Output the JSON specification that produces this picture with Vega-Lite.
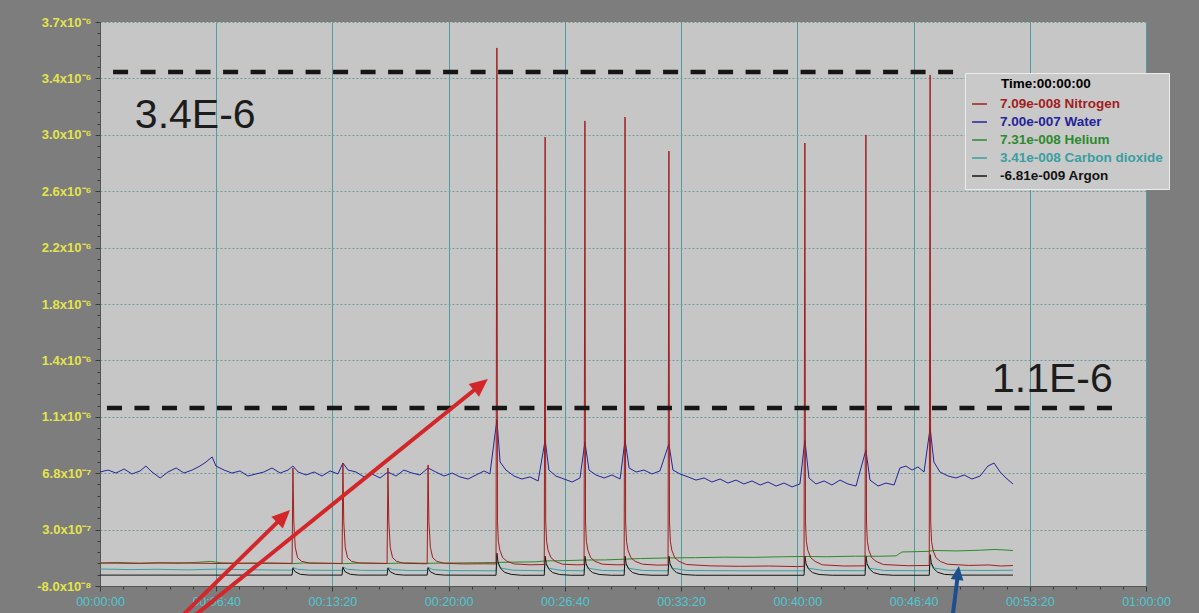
{
"$schema": "https://vega.github.io/schema/vega-lite/v6.json",
"width": 1046, "height": 564,
"autosize": {"type": "none"},
"padding": {"left": 100, "top": 22, "right": 53, "bottom": 27},
"background": "#7d7d7d",
"config": {"view": {"fill": "#c6c6c6", "stroke": null}, "font": "Liberation Sans"},
"datasets": {
"series": [
{"series":"Water","t":0,"v":0.684},{"series":"Water","t":28,"v":0.697},{"series":"Water","t":55,"v":0.677},{"series":"Water","t":83,"v":0.704},{"series":"Water","t":110,"v":0.671},{"series":"Water","t":138,"v":0.691},{"series":"Water","t":158,"v":0.724},{"series":"Water","t":179,"v":0.684},{"series":"Water","t":207,"v":0.644},{"series":"Water","t":234,"v":0.684},{"series":"Water","t":262,"v":0.711},{"series":"Water","t":289,"v":0.677},{"series":"Water","t":317,"v":0.697},{"series":"Water","t":344,"v":0.724},{"series":"Water","t":365,"v":0.751},{"series":"Water","t":386,"v":0.785},{"series":"Water","t":399,"v":0.724},{"series":"Water","t":427,"v":0.697},{"series":"Water","t":454,"v":0.677},{"series":"Water","t":482,"v":0.691},{"series":"Water","t":509,"v":0.657},{"series":"Water","t":537,"v":0.671},{"series":"Water","t":564,"v":0.684},{"series":"Water","t":592,"v":0.711},{"series":"Water","t":620,"v":0.677},{"series":"Water","t":647,"v":0.697},{"series":"Water","t":664,"v":0.724},{"series":"Water","t":682,"v":0.684},{"series":"Water","t":709,"v":0.664},{"series":"Water","t":737,"v":0.684},{"series":"Water","t":764,"v":0.657},{"series":"Water","t":792,"v":0.691},{"series":"Water","t":819,"v":0.671},{"series":"Water","t":836,"v":0.744},{"series":"Water","t":854,"v":0.697},{"series":"Water","t":881,"v":0.684},{"series":"Water","t":909,"v":0.651},{"series":"Water","t":936,"v":0.671},{"series":"Water","t":964,"v":0.644},{"series":"Water","t":991,"v":0.684},{"series":"Water","t":1019,"v":0.657},{"series":"Water","t":1046,"v":0.697},{"series":"Water","t":1074,"v":0.677},{"series":"Water","t":1101,"v":0.664},{"series":"Water","t":1129,"v":0.711},{"series":"Water","t":1156,"v":0.684},{"series":"Water","t":1184,"v":0.657},{"series":"Water","t":1212,"v":0.677},{"series":"Water","t":1239,"v":0.651},{"series":"Water","t":1267,"v":0.637},{"series":"Water","t":1294,"v":0.664},{"series":"Water","t":1322,"v":0.691},{"series":"Water","t":1342,"v":0.671},{"series":"Water","t":1366,"v":1.033},{"series":"Water","t":1377,"v":0.751},{"series":"Water","t":1397,"v":0.697},{"series":"Water","t":1425,"v":0.657},{"series":"Water","t":1452,"v":0.637},{"series":"Water","t":1480,"v":0.651},{"series":"Water","t":1508,"v":0.624},{"series":"Water","t":1532,"v":0.899},{"series":"Water","t":1545,"v":0.697},{"series":"Water","t":1569,"v":0.657},{"series":"Water","t":1597,"v":0.637},{"series":"Water","t":1625,"v":0.617},{"series":"Water","t":1652,"v":0.644},{"series":"Water","t":1669,"v":0.885},{"series":"Water","t":1683,"v":0.697},{"series":"Water","t":1707,"v":0.664},{"series":"Water","t":1735,"v":0.644},{"series":"Water","t":1762,"v":0.664},{"series":"Water","t":1790,"v":0.637},{"series":"Water","t":1807,"v":0.899},{"series":"Water","t":1821,"v":0.711},{"series":"Water","t":1845,"v":0.684},{"series":"Water","t":1872,"v":0.697},{"series":"Water","t":1900,"v":0.671},{"series":"Water","t":1927,"v":0.691},{"series":"Water","t":1958,"v":0.872},{"series":"Water","t":1972,"v":0.697},{"series":"Water","t":1996,"v":0.671},{"series":"Water","t":2024,"v":0.651},{"series":"Water","t":2051,"v":0.630},{"series":"Water","t":2079,"v":0.644},{"series":"Water","t":2106,"v":0.617},{"series":"Water","t":2134,"v":0.637},{"series":"Water","t":2161,"v":0.610},{"series":"Water","t":2189,"v":0.630},{"series":"Water","t":2216,"v":0.604},{"series":"Water","t":2244,"v":0.624},{"series":"Water","t":2272,"v":0.597},{"series":"Water","t":2299,"v":0.617},{"series":"Water","t":2327,"v":0.590},{"series":"Water","t":2354,"v":0.610},{"series":"Water","t":2382,"v":0.584},{"series":"Water","t":2409,"v":0.604},{"series":"Water","t":2426,"v":0.899},{"series":"Water","t":2440,"v":0.644},{"series":"Water","t":2464,"v":0.604},{"series":"Water","t":2492,"v":0.624},{"series":"Water","t":2519,"v":0.597},{"series":"Water","t":2547,"v":0.630},{"series":"Water","t":2574,"v":0.604},{"series":"Water","t":2602,"v":0.590},{"series":"Water","t":2636,"v":0.831},{"series":"Water","t":2650,"v":0.630},{"series":"Water","t":2678,"v":0.590},{"series":"Water","t":2705,"v":0.610},{"series":"Water","t":2733,"v":0.597},{"series":"Water","t":2753,"v":0.711},{"series":"Water","t":2774,"v":0.724},{"series":"Water","t":2795,"v":0.697},{"series":"Water","t":2815,"v":0.718},{"series":"Water","t":2836,"v":0.684},{"series":"Water","t":2857,"v":0.979},{"series":"Water","t":2870,"v":0.751},{"series":"Water","t":2891,"v":0.684},{"series":"Water","t":2919,"v":0.657},{"series":"Water","t":2946,"v":0.644},{"series":"Water","t":2974,"v":0.664},{"series":"Water","t":3001,"v":0.637},{"series":"Water","t":3029,"v":0.657},{"series":"Water","t":3056,"v":0.724},{"series":"Water","t":3077,"v":0.744},{"series":"Water","t":3098,"v":0.684},{"series":"Water","t":3118,"v":0.644},{"series":"Water","t":3142,"v":0.604},
{"series":"Helium","t":0,"v":0.074},{"series":"Helium","t":60,"v":0.078},{"series":"Helium","t":140,"v":0.072},{"series":"Helium","t":200,"v":0.076},{"series":"Helium","t":260,"v":0.072},{"series":"Helium","t":330,"v":0.078},{"series":"Helium","t":380,"v":0.085},{"series":"Helium","t":420,"v":0.075},{"series":"Helium","t":500,"v":0.072},{"series":"Helium","t":580,"v":0.074},{"series":"Helium","t":664,"v":0.070},{"series":"Helium","t":700,"v":0.074},{"series":"Helium","t":760,"v":0.072},{"series":"Helium","t":840,"v":0.070},{"series":"Helium","t":900,"v":0.074},{"series":"Helium","t":991,"v":0.071},{"series":"Helium","t":1060,"v":0.075},{"series":"Helium","t":1129,"v":0.072},{"series":"Helium","t":1200,"v":0.074},{"series":"Helium","t":1300,"v":0.076},{"series":"Helium","t":1366,"v":0.078},{"series":"Helium","t":1420,"v":0.080},{"series":"Helium","t":1500,"v":0.082},{"series":"Helium","t":1532,"v":0.088},{"series":"Helium","t":1600,"v":0.090},{"series":"Helium","t":1669,"v":0.094},{"series":"Helium","t":1740,"v":0.095},{"series":"Helium","t":1807,"v":0.100},{"series":"Helium","t":1860,"v":0.104},{"series":"Helium","t":1958,"v":0.108},{"series":"Helium","t":2050,"v":0.110},{"series":"Helium","t":2150,"v":0.113},{"series":"Helium","t":2250,"v":0.112},{"series":"Helium","t":2350,"v":0.116},{"series":"Helium","t":2426,"v":0.118},{"series":"Helium","t":2500,"v":0.116},{"series":"Helium","t":2600,"v":0.120},{"series":"Helium","t":2680,"v":0.119},{"series":"Helium","t":2740,"v":0.122},{"series":"Helium","t":2760,"v":0.148},{"series":"Helium","t":2850,"v":0.152},{"series":"Helium","t":2870,"v":0.158},{"series":"Helium","t":2950,"v":0.155},{"series":"Helium","t":3030,"v":0.160},{"series":"Helium","t":3080,"v":0.165},{"series":"Helium","t":3142,"v":0.158},
{"series":"Carbon dioxide","t":0,"v":0.034},{"series":"Carbon dioxide","t":100,"v":0.030},{"series":"Carbon dioxide","t":200,"v":0.032},{"series":"Carbon dioxide","t":300,"v":0.028},{"series":"Carbon dioxide","t":400,"v":0.033},{"series":"Carbon dioxide","t":500,"v":0.030},{"series":"Carbon dioxide","t":600,"v":0.027},{"series":"Carbon dioxide","t":661,"v":0.026},{"series":"Carbon dioxide","t":664,"v":0.045},{"series":"Carbon dioxide","t":680,"v":0.032},{"series":"Carbon dioxide","t":720,"v":0.026},{"series":"Carbon dioxide","t":833,"v":0.025},{"series":"Carbon dioxide","t":836,"v":0.048},{"series":"Carbon dioxide","t":852,"v":0.032},{"series":"Carbon dioxide","t":900,"v":0.025},{"series":"Carbon dioxide","t":988,"v":0.024},{"series":"Carbon dioxide","t":991,"v":0.044},{"series":"Carbon dioxide","t":1007,"v":0.030},{"series":"Carbon dioxide","t":1060,"v":0.024},{"series":"Carbon dioxide","t":1126,"v":0.024},{"series":"Carbon dioxide","t":1129,"v":0.046},{"series":"Carbon dioxide","t":1145,"v":0.030},{"series":"Carbon dioxide","t":1200,"v":0.023},{"series":"Carbon dioxide","t":1363,"v":0.022},{"series":"Carbon dioxide","t":1366,"v":0.075},{"series":"Carbon dioxide","t":1380,"v":0.040},{"series":"Carbon dioxide","t":1420,"v":0.026},{"series":"Carbon dioxide","t":1529,"v":0.022},{"series":"Carbon dioxide","t":1532,"v":0.070},{"series":"Carbon dioxide","t":1546,"v":0.038},{"series":"Carbon dioxide","t":1590,"v":0.024},{"series":"Carbon dioxide","t":1666,"v":0.022},{"series":"Carbon dioxide","t":1669,"v":0.070},{"series":"Carbon dioxide","t":1683,"v":0.038},{"series":"Carbon dioxide","t":1730,"v":0.024},{"series":"Carbon dioxide","t":1804,"v":0.022},{"series":"Carbon dioxide","t":1807,"v":0.070},{"series":"Carbon dioxide","t":1821,"v":0.038},{"series":"Carbon dioxide","t":1870,"v":0.024},{"series":"Carbon dioxide","t":1955,"v":0.022},{"series":"Carbon dioxide","t":1958,"v":0.070},{"series":"Carbon dioxide","t":1972,"v":0.038},{"series":"Carbon dioxide","t":2020,"v":0.024},{"series":"Carbon dioxide","t":2200,"v":0.022},{"series":"Carbon dioxide","t":2423,"v":0.022},{"series":"Carbon dioxide","t":2426,"v":0.070},{"series":"Carbon dioxide","t":2440,"v":0.038},{"series":"Carbon dioxide","t":2490,"v":0.024},{"series":"Carbon dioxide","t":2633,"v":0.022},{"series":"Carbon dioxide","t":2636,"v":0.070},{"series":"Carbon dioxide","t":2650,"v":0.038},{"series":"Carbon dioxide","t":2700,"v":0.024},{"series":"Carbon dioxide","t":2854,"v":0.022},{"series":"Carbon dioxide","t":2857,"v":0.075},{"series":"Carbon dioxide","t":2871,"v":0.040},{"series":"Carbon dioxide","t":2920,"v":0.026},{"series":"Carbon dioxide","t":3050,"v":0.024},{"series":"Carbon dioxide","t":3142,"v":0.026},
{"series":"Argon","t":0,"v":-0.007},{"series":"Argon","t":661,"v":-0.007},{"series":"Argon","t":664,"v":0.040},{"series":"Argon","t":672,"v":0.015},{"series":"Argon","t":690,"v":-0.002},{"series":"Argon","t":720,"v":-0.007},{"series":"Argon","t":833,"v":-0.007},{"series":"Argon","t":836,"v":0.045},{"series":"Argon","t":844,"v":0.015},{"series":"Argon","t":862,"v":-0.002},{"series":"Argon","t":890,"v":-0.007},{"series":"Argon","t":988,"v":-0.007},{"series":"Argon","t":991,"v":0.040},{"series":"Argon","t":999,"v":0.015},{"series":"Argon","t":1017,"v":-0.002},{"series":"Argon","t":1045,"v":-0.007},{"series":"Argon","t":1126,"v":-0.007},{"series":"Argon","t":1129,"v":0.042},{"series":"Argon","t":1137,"v":0.015},{"series":"Argon","t":1155,"v":-0.002},{"series":"Argon","t":1185,"v":-0.007},{"series":"Argon","t":1363,"v":-0.008},{"series":"Argon","t":1366,"v":0.140},{"series":"Argon","t":1370,"v":0.080},{"series":"Argon","t":1378,"v":0.040},{"series":"Argon","t":1392,"v":0.012},{"series":"Argon","t":1415,"v":-0.002},{"series":"Argon","t":1450,"v":-0.008},{"series":"Argon","t":1529,"v":-0.008},{"series":"Argon","t":1532,"v":0.120},{"series":"Argon","t":1536,"v":0.070},{"series":"Argon","t":1544,"v":0.035},{"series":"Argon","t":1558,"v":0.010},{"series":"Argon","t":1581,"v":-0.003},{"series":"Argon","t":1620,"v":-0.008},{"series":"Argon","t":1666,"v":-0.008},{"series":"Argon","t":1669,"v":0.120},{"series":"Argon","t":1673,"v":0.070},{"series":"Argon","t":1681,"v":0.035},{"series":"Argon","t":1695,"v":0.010},{"series":"Argon","t":1718,"v":-0.003},{"series":"Argon","t":1760,"v":-0.008},{"series":"Argon","t":1804,"v":-0.008},{"series":"Argon","t":1807,"v":0.120},{"series":"Argon","t":1811,"v":0.070},{"series":"Argon","t":1819,"v":0.035},{"series":"Argon","t":1833,"v":0.010},{"series":"Argon","t":1856,"v":-0.003},{"series":"Argon","t":1900,"v":-0.008},{"series":"Argon","t":1955,"v":-0.008},{"series":"Argon","t":1958,"v":0.120},{"series":"Argon","t":1962,"v":0.070},{"series":"Argon","t":1970,"v":0.035},{"series":"Argon","t":1984,"v":0.010},{"series":"Argon","t":2007,"v":-0.003},{"series":"Argon","t":2050,"v":-0.008},{"series":"Argon","t":2423,"v":-0.008},{"series":"Argon","t":2426,"v":0.120},{"series":"Argon","t":2430,"v":0.070},{"series":"Argon","t":2438,"v":0.035},{"series":"Argon","t":2452,"v":0.010},{"series":"Argon","t":2475,"v":-0.003},{"series":"Argon","t":2520,"v":-0.008},{"series":"Argon","t":2633,"v":-0.008},{"series":"Argon","t":2636,"v":0.120},{"series":"Argon","t":2640,"v":0.070},{"series":"Argon","t":2648,"v":0.035},{"series":"Argon","t":2662,"v":0.010},{"series":"Argon","t":2685,"v":-0.003},{"series":"Argon","t":2730,"v":-0.008},{"series":"Argon","t":2854,"v":-0.008},{"series":"Argon","t":2857,"v":0.130},{"series":"Argon","t":2861,"v":0.075},{"series":"Argon","t":2869,"v":0.038},{"series":"Argon","t":2883,"v":0.012},{"series":"Argon","t":2906,"v":-0.002},{"series":"Argon","t":2950,"v":-0.007},{"series":"Argon","t":3142,"v":-0.007},
{"series":"Nitrogen","t":0,"v":0.074},{"series":"Nitrogen","t":120,"v":0.072},{"series":"Nitrogen","t":250,"v":0.075},{"series":"Nitrogen","t":400,"v":0.071},{"series":"Nitrogen","t":520,"v":0.073},{"series":"Nitrogen","t":661,"v":0.072},
{"series":"Nitrogen","t":664,"v":0.711},{"series":"Nitrogen","t":667,"v":0.35},{"series":"Nitrogen","t":672,"v":0.18},{"series":"Nitrogen","t":680,"v":0.11},{"series":"Nitrogen","t":694,"v":0.085},{"series":"Nitrogen","t":720,"v":0.074},
{"series":"Nitrogen","t":800,"v":0.072},{"series":"Nitrogen","t":833,"v":0.071},{"series":"Nitrogen","t":836,"v":0.744},{"series":"Nitrogen","t":839,"v":0.35},{"series":"Nitrogen","t":844,"v":0.18},{"series":"Nitrogen","t":852,"v":0.11},{"series":"Nitrogen","t":866,"v":0.085},{"series":"Nitrogen","t":892,"v":0.074},
{"series":"Nitrogen","t":950,"v":0.072},{"series":"Nitrogen","t":988,"v":0.071},{"series":"Nitrogen","t":991,"v":0.711},{"series":"Nitrogen","t":994,"v":0.35},{"series":"Nitrogen","t":999,"v":0.18},{"series":"Nitrogen","t":1007,"v":0.11},{"series":"Nitrogen","t":1021,"v":0.085},{"series":"Nitrogen","t":1047,"v":0.072},
{"series":"Nitrogen","t":1100,"v":0.070},{"series":"Nitrogen","t":1126,"v":0.069},{"series":"Nitrogen","t":1129,"v":0.731},{"series":"Nitrogen","t":1132,"v":0.35},{"series":"Nitrogen","t":1137,"v":0.18},{"series":"Nitrogen","t":1145,"v":0.11},{"series":"Nitrogen","t":1159,"v":0.085},{"series":"Nitrogen","t":1185,"v":0.072},
{"series":"Nitrogen","t":1250,"v":0.068},{"series":"Nitrogen","t":1320,"v":0.069},{"series":"Nitrogen","t":1363,"v":0.068},
{"series":"Nitrogen","t":1366,"v":3.526},{"series":"Nitrogen","t":1368,"v":0.35},{"series":"Nitrogen","t":1371,"v":0.22},{"series":"Nitrogen","t":1376,"v":0.16},{"series":"Nitrogen","t":1386,"v":0.11},{"series":"Nitrogen","t":1401,"v":0.085},{"series":"Nitrogen","t":1426,"v":0.068},{"series":"Nitrogen","t":1480,"v":0.062},{"series":"Nitrogen","t":1529,"v":0.064},
{"series":"Nitrogen","t":1532,"v":2.929},{"series":"Nitrogen","t":1534,"v":0.35},{"series":"Nitrogen","t":1537,"v":0.22},{"series":"Nitrogen","t":1542,"v":0.16},{"series":"Nitrogen","t":1552,"v":0.11},{"series":"Nitrogen","t":1567,"v":0.085},{"series":"Nitrogen","t":1592,"v":0.066},{"series":"Nitrogen","t":1640,"v":0.062},{"series":"Nitrogen","t":1666,"v":0.063},
{"series":"Nitrogen","t":1669,"v":3.037},{"series":"Nitrogen","t":1671,"v":0.35},{"series":"Nitrogen","t":1674,"v":0.22},{"series":"Nitrogen","t":1679,"v":0.16},{"series":"Nitrogen","t":1689,"v":0.11},{"series":"Nitrogen","t":1704,"v":0.085},{"series":"Nitrogen","t":1729,"v":0.066},{"series":"Nitrogen","t":1780,"v":0.062},{"series":"Nitrogen","t":1804,"v":0.063},
{"series":"Nitrogen","t":1807,"v":3.063},{"series":"Nitrogen","t":1809,"v":0.35},{"series":"Nitrogen","t":1812,"v":0.22},{"series":"Nitrogen","t":1817,"v":0.16},{"series":"Nitrogen","t":1827,"v":0.11},{"series":"Nitrogen","t":1842,"v":0.085},{"series":"Nitrogen","t":1867,"v":0.066},{"series":"Nitrogen","t":1920,"v":0.060},{"series":"Nitrogen","t":1955,"v":0.061},
{"series":"Nitrogen","t":1958,"v":2.835},{"series":"Nitrogen","t":1960,"v":0.35},{"series":"Nitrogen","t":1963,"v":0.22},{"series":"Nitrogen","t":1968,"v":0.16},{"series":"Nitrogen","t":1978,"v":0.11},{"series":"Nitrogen","t":1993,"v":0.085},{"series":"Nitrogen","t":2018,"v":0.064},{"series":"Nitrogen","t":2100,"v":0.055},{"series":"Nitrogen","t":2200,"v":0.052},{"series":"Nitrogen","t":2300,"v":0.054},{"series":"Nitrogen","t":2400,"v":0.050},{"series":"Nitrogen","t":2423,"v":0.052},
{"series":"Nitrogen","t":2426,"v":2.889},{"series":"Nitrogen","t":2428,"v":0.35},{"series":"Nitrogen","t":2431,"v":0.22},{"series":"Nitrogen","t":2436,"v":0.16},{"series":"Nitrogen","t":2446,"v":0.11},{"series":"Nitrogen","t":2461,"v":0.085},{"series":"Nitrogen","t":2486,"v":0.062},{"series":"Nitrogen","t":2560,"v":0.054},{"series":"Nitrogen","t":2633,"v":0.055},
{"series":"Nitrogen","t":2636,"v":2.943},{"series":"Nitrogen","t":2638,"v":0.35},{"series":"Nitrogen","t":2641,"v":0.22},{"series":"Nitrogen","t":2646,"v":0.16},{"series":"Nitrogen","t":2656,"v":0.11},{"series":"Nitrogen","t":2671,"v":0.085},{"series":"Nitrogen","t":2696,"v":0.064},{"series":"Nitrogen","t":2780,"v":0.056},{"series":"Nitrogen","t":2854,"v":0.058},
{"series":"Nitrogen","t":2857,"v":3.345},{"series":"Nitrogen","t":2859,"v":0.35},{"series":"Nitrogen","t":2862,"v":0.22},{"series":"Nitrogen","t":2867,"v":0.16},{"series":"Nitrogen","t":2877,"v":0.11},{"series":"Nitrogen","t":2892,"v":0.085},{"series":"Nitrogen","t":2917,"v":0.066},{"series":"Nitrogen","t":2990,"v":0.058},{"series":"Nitrogen","t":3060,"v":0.061},{"series":"Nitrogen","t":3100,"v":0.054},{"series":"Nitrogen","t":3142,"v":0.057}
],
"refs": [{"t":45,"t2":2960,"v":3.365},{"t":24,"t2":3510,"v":1.113}],
"notes": [{"t":120,"v":2.99,"label":"3.4E-6"},{"t":3070,"v":1.22,"label":"1.1E-6"}],
"arrows": [
{"arrow":"a1","t":268,"v":-0.308,"t2":624,"v2":0.373,"tip_t":654,"tip_v":0.429},
{"arrow":"a2","t":307,"v":-0.308,"t2":1303,"v2":1.257,"tip_t":1335,"tip_v":1.307},
{"arrow":"blue","t":2933,"v":-0.308,"t2":2951,"v2":-0.026,"tip_t":2956,"tip_v":0.054}
]
},
"layer": [
{
"data": {"name": "series"},
"mark": {"type": "line", "strokeWidth": 1},
"encoding": {
"x": {"field": "t", "type": "quantitative",
 "scale": {"domain": [0, 3600], "nice": false, "zero": false},
 "axis": {"title": null, "tickCount": 500,
  "values": [0,80,160,240,320,400,480,560,640,720,800,880,960,1040,1120,1200,1280,1360,1440,1520,1600,1680,1760,1840,1920,2000,2080,2160,2240,2320,2400,2480,2560,2640,2720,2800,2880,2960,3040,3120,3200,3280,3360,3440,3520,3600],
  "labelExpr": "datum.value % 400 === 0 ? utcFormat(datum.value * 1000, '%H:%M:%S') : ''",
  "labelColor": "#4ec8d2", "labelFont": "Liberation Sans", "labelFontSize": 12.5, "labelPadding": 4,
  "labelOverlap": false, "labelFlush": false, "labelBound": false,
  "grid": true, "gridColor": "#4e9ea4", "gridWidth": 1,
  "gridOpacity": {"condition": {"test": "datum.value % 400 === 0", "value": 1}, "value": 0},
  "tickColor": "#3a3a3a",
  "tickSize": {"condition": {"test": "datum.value % 400 === 0", "value": 5}, "value": 3},
  "domainColor": "#555555"}},
"y": {"field": "v", "type": "quantitative",
 "scale": {"domain": [-0.08, 3.7], "nice": false, "zero": false},
 "axis": {"title": null, "tickCount": 500,
  "values": [-0.08,-0.0044,0.0712,0.1468,0.2224,0.298,0.3736,0.4492,0.5248,0.6004,0.676,0.7516,0.8272,0.9028,0.9784,1.054,1.1296,1.2052,1.2808,1.3564,1.432,1.5076,1.5832,1.6588,1.7344,1.81,1.8856,1.9612,2.0368,2.1124,2.188,2.2636,2.3392,2.4148,2.4904,2.566,2.6416,2.7172,2.7928,2.8684,2.944,3.0196,3.0952,3.1708,3.2464,3.322,3.3976,3.4732,3.5488,3.6244,3.6999],
  "labelExpr": "round((datum.value + 0.08) / 0.0756) % 5 === 0 ? ['-8.0x10⁻⁸','3.0x10⁻⁷','6.8x10⁻⁷','1.1x10⁻⁶','1.4x10⁻⁶','1.8x10⁻⁶','2.2x10⁻⁶','2.6x10⁻⁶','3.0x10⁻⁶','3.4x10⁻⁶','3.7x10⁻⁶'][round((datum.value + 0.08) / 0.378)] : ''",
  "labelColor": "#e4e44c", "labelFont": "Liberation Sans", "labelFontWeight": "bold", "labelFontSize": 13, "labelPadding": 4,
  "labelOverlap": false, "labelBound": false, "labelFlush": false,
  "grid": true, "gridColor": "#6f9c9c", "gridDash": [2, 2], "gridWidth": 1,
  "gridOpacity": {"condition": {"test": "round((datum.value + 0.08) / 0.0756) % 5 === 0", "value": 1}, "value": 0},
  "tickColor": "#3a3a3a",
  "tickSize": {"condition": {"test": "round((datum.value + 0.08) / 0.0756) % 5 === 0", "value": 5}, "value": 3},
  "domainColor": "#555555"}},
"color": {"field": "series", "type": "nominal",
 "scale": {"domain": ["Nitrogen", "Water", "Helium", "Carbon dioxide", "Argon"], "range": ["#a01e1e", "#24249a", "#2c8a2c", "#3a9ea2", "#141414"]},
 "legend": {"title": "Time:00:00:00", "orient": "none", "legendX": 865, "legendY": 51, "direction": "vertical",
  "symbolType": "stroke", "symbolSize": 220, "symbolStrokeWidth": 1.5,
  "labelExpr": "datum.label === 'Nitrogen' ? '7.09e-008 Nitrogen' : datum.label === 'Water' ? '7.00e-007 Water' : datum.label === 'Helium' ? '7.31e-008 Helium' : datum.label === 'Carbon dioxide' ? '3.41e-008 Carbon dioxide' : '-6.81e-009 Argon'",
  "labelFont": "Liberation Sans", "labelFontWeight": "bold", "labelFontSize": 13.5, "labelOffset": 12, "labelLimit": 300,
  "titleFont": "Liberation Sans", "titleFontWeight": "bold", "titleFontSize": 13.5, "titleColor": "#000000", "titlePadding": 3,
  "fillColor": "#c9c9c9", "strokeColor": "#ececec", "padding": 6, "rowPadding": 3,
  "encode": {"labels": {"update": {"fill": {"scale": "color", "field": "value"}}}, "title": {"update": {"dx": {"value": 30}, "dy": {"value": -2}}}}}}
}
},
{
"data": {"name": "refs"},
"mark": {"type": "rule", "strokeDash": [15, 12.5], "strokeWidth": 4.5, "color": "#161616"},
"encoding": {
"x": {"field": "t", "type": "quantitative", "scale": {"domain": [0, 3600], "nice": false, "zero": false}},
"x2": {"field": "t2"},
"y": {"field": "v", "type": "quantitative", "scale": {"domain": [-0.08, 3.7], "nice": false, "zero": false}}
}
},
{
"data": {"name": "notes"},
"mark": {"type": "text", "align": "left", "baseline": "alphabetic", "fontSize": 41, "font": "Liberation Sans", "color": "#1c1c1c"},
"encoding": {
"x": {"field": "t", "type": "quantitative", "scale": {"domain": [0, 3600], "nice": false, "zero": false}},
"y": {"field": "v", "type": "quantitative", "scale": {"domain": [-0.08, 3.7], "nice": false, "zero": false}},
"text": {"field": "label"}
}
},
{
"data": {"name": "arrows"},
"mark": {"type": "rule", "strokeWidth": 4, "strokeCap": "butt"},
"encoding": {
"x": {"field": "t", "type": "quantitative", "scale": {"domain": [0, 3600], "nice": false, "zero": false}},
"y": {"field": "v", "type": "quantitative", "scale": {"domain": [-0.08, 3.7], "nice": false, "zero": false}},
"x2": {"field": "t2"},
"y2": {"field": "v2"},
"color": {"condition": {"test": "datum.arrow === 'blue'", "value": "#1d4f8c"}, "value": "#d3262b"}
}
},
{
"data": {"name": "arrows"},
"mark": {"type": "point", "shape": "M0,0L0.5,1.1L-0.5,1.1Z", "filled": true, "opacity": 1},
"encoding": {
"x": {"field": "tip_t", "type": "quantitative", "scale": {"domain": [0, 3600], "nice": false, "zero": false}},
"y": {"field": "tip_v", "type": "quantitative", "scale": {"domain": [-0.08, 3.7], "nice": false, "zero": false}},
"color": {"condition": {"test": "datum.arrow === 'blue'", "value": "#1d4f8c"}, "value": "#d3262b"},
"size": {"condition": {"test": "datum.arrow === 'blue'", "value": 650}, "value": 1075},
"angle": {"condition": [{"test": "datum.arrow === 'a1'", "value": 45.6}, {"test": "datum.arrow === 'blue'", "value": 7.3}], "value": 51.1}
}
}
]
}
